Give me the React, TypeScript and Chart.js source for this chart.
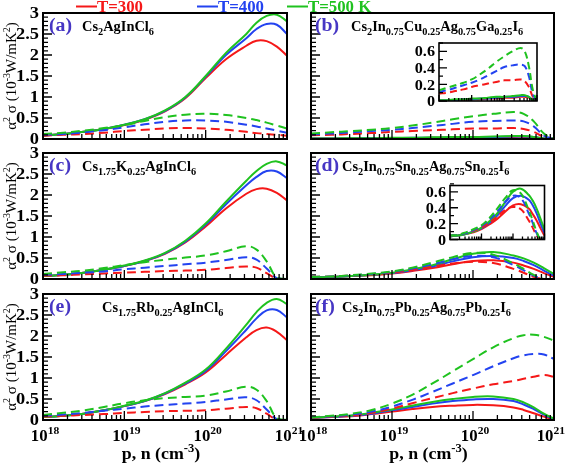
import React, { useEffect, useRef } from 'react';
import { Chart, registerables } from 'chart.js';

Chart.register(...registerables);

const W = 567;
const H = 465;
const FONT = '"Liberation Serif", "Times New Roman", Times, serif';

// carrier concentration grid, log10(cm^-3)
const EXPS = [18, 18.25, 18.5, 18.75, 19, 19.25, 19.5, 19.75, 20, 20.25, 20.5, 20.625, 20.75, 20.875, 21];
const TEMP_LABELS = ['T=300', 'T=400', 'T=500 K'];
const COLORS = ['#f51818', '#2343f0', '#1fc21f'];
const TAG_COLOR = '#4636c4';

const X_DECADES = [18, 19, 20, 21];
const Y_TICKS = ['0', '0.5', '1', '1.5', '2', '2.5', '3'];
const INSET_Y_TICKS = ['0', '0.2', '0.4', '0.6'];

// (a) Cs2AgInCl6  (solid = p-type, dashed = n-type)
const A_SOLID_300 = [0.08, 0.12, 0.17, 0.24, 0.33, 0.46, 0.66, 0.97, 1.45, 1.9, 2.22, 2.34, 2.33, 2.2, 1.98];
const A_SOLID_400 = [0.08, 0.12, 0.17, 0.24, 0.34, 0.47, 0.67, 0.99, 1.48, 2.0, 2.4, 2.62, 2.74, 2.72, 2.5];
const A_SOLID_500 = [0.08, 0.12, 0.17, 0.24, 0.34, 0.47, 0.68, 1.0, 1.5, 2.05, 2.5, 2.77, 2.93, 2.96, 2.8];
const A_DASH_300 = [0.08, 0.1, 0.12, 0.15, 0.19, 0.22, 0.25, 0.26, 0.25, 0.22, 0.17, 0.14, 0.12, 0.1, 0.08];
const A_DASH_400 = [0.1, 0.12, 0.16, 0.21, 0.28, 0.35, 0.41, 0.44, 0.44, 0.41, 0.34, 0.3, 0.25, 0.2, 0.15];
const A_DASH_500 = [0.12, 0.15, 0.2, 0.26, 0.33, 0.43, 0.52, 0.58, 0.6, 0.57, 0.5, 0.45, 0.39, 0.32, 0.25];

// (b) Cs2In0.75Cu0.25Ag0.75Ga0.25I6
const B_SOLID_300 = [0.01, 0.01, 0.01, 0.01, 0.02, 0.02, 0.03, 0.03, 0.04, 0.04, 0.05, 0.05, 0.04, 0.01, 0];
const B_SOLID_400 = [0.01, 0.01, 0.01, 0.02, 0.02, 0.03, 0.03, 0.04, 0.05, 0.05, 0.06, 0.06, 0.05, 0.01, 0];
const B_SOLID_500 = [0.01, 0.01, 0.02, 0.02, 0.03, 0.03, 0.04, 0.05, 0.05, 0.06, 0.07, 0.07, 0.05, 0.01, 0];
const B_DASH_300 = [0.09, 0.1, 0.12, 0.14, 0.17, 0.19, 0.21, 0.23, 0.25, 0.25, 0.26, 0.24, 0.17, 0.05, 0];
const B_DASH_400 = [0.11, 0.13, 0.16, 0.19, 0.22, 0.26, 0.31, 0.36, 0.41, 0.43, 0.44, 0.42, 0.3, 0.08, 0];
const B_DASH_500 = [0.13, 0.16, 0.19, 0.22, 0.26, 0.32, 0.39, 0.47, 0.54, 0.6, 0.64, 0.6, 0.42, 0.13, 0];

// (c) Cs1.75K0.25AgInCl6
const C_SOLID_300 = [0.07, 0.1, 0.15, 0.22, 0.31, 0.43, 0.6, 0.87, 1.25, 1.68, 2.03, 2.14, 2.15, 2.05, 1.87];
const C_SOLID_400 = [0.07, 0.1, 0.15, 0.22, 0.31, 0.43, 0.61, 0.89, 1.29, 1.78, 2.23, 2.43, 2.57, 2.56, 2.4];
const C_SOLID_500 = [0.07, 0.1, 0.15, 0.22, 0.32, 0.44, 0.62, 0.91, 1.32, 1.84, 2.34, 2.57, 2.74, 2.8, 2.7];
const C_DASH_300 = [0.08, 0.09, 0.11, 0.13, 0.15, 0.17, 0.19, 0.2, 0.22, 0.26, 0.3, 0.27, 0.14, 0.01, 0];
const C_DASH_400 = [0.1, 0.12, 0.15, 0.18, 0.23, 0.27, 0.31, 0.35, 0.39, 0.45, 0.52, 0.46, 0.25, 0.02, 0];
const C_DASH_500 = [0.12, 0.16, 0.2, 0.26, 0.33, 0.4, 0.46, 0.51, 0.56, 0.66, 0.78, 0.7, 0.42, 0.03, 0];

// (d) Cs2In0.75Sn0.25Ag0.75Sn0.25I6
const D_SOLID_300 = [0.04, 0.05, 0.07, 0.09, 0.13, 0.19, 0.26, 0.35, 0.43, 0.445, 0.39, 0.32, 0.24, 0.14, 0.05];
const D_SOLID_400 = [0.04, 0.05, 0.07, 0.1, 0.14, 0.21, 0.3, 0.42, 0.52, 0.55, 0.5, 0.43, 0.33, 0.2, 0.08];
const D_SOLID_500 = [0.04, 0.05, 0.07, 0.1, 0.15, 0.23, 0.33, 0.47, 0.6, 0.64, 0.56, 0.49, 0.39, 0.26, 0.12];
const D_DASH_300 = [0.05, 0.06, 0.08, 0.11, 0.15, 0.21, 0.29, 0.37, 0.41, 0.38, 0.24, 0.15, 0.05, 0, 0];
const D_DASH_400 = [0.05, 0.06, 0.08, 0.12, 0.17, 0.25, 0.35, 0.47, 0.55, 0.52, 0.33, 0.21, 0.08, 0, 0];
const D_DASH_500 = [0.05, 0.06, 0.09, 0.13, 0.18, 0.27, 0.39, 0.52, 0.62, 0.58, 0.37, 0.24, 0.1, 0, 0];

// (e) Cs1.75Rb0.25AgInCl6
const E_SOLID_300 = [0.07, 0.1, 0.15, 0.23, 0.33, 0.45, 0.62, 0.85, 1.13, 1.55, 1.97, 2.14, 2.2, 2.1, 1.9];
const E_SOLID_400 = [0.07, 0.1, 0.15, 0.23, 0.33, 0.45, 0.63, 0.87, 1.17, 1.64, 2.15, 2.42, 2.61, 2.62, 2.44];
const E_SOLID_500 = [0.07, 0.1, 0.15, 0.23, 0.34, 0.46, 0.64, 0.89, 1.2, 1.7, 2.27, 2.57, 2.79, 2.88, 2.76];
const E_DASH_300 = [0.08, 0.1, 0.12, 0.14, 0.17, 0.19, 0.21, 0.22, 0.23, 0.27, 0.31, 0.28, 0.15, 0.01, 0];
const E_DASH_400 = [0.1, 0.13, 0.17, 0.22, 0.27, 0.32, 0.36, 0.39, 0.43, 0.49, 0.54, 0.47, 0.25, 0.02, 0];
const E_DASH_500 = [0.12, 0.17, 0.23, 0.31, 0.4, 0.47, 0.52, 0.55, 0.58, 0.68, 0.79, 0.72, 0.45, 0.04, 0];

// (f) Cs2In0.75Pb0.25Ag0.75Pb0.25I6
const F_SOLID_300 = [0.05, 0.07, 0.09, 0.14, 0.2, 0.26, 0.31, 0.34, 0.36, 0.35, 0.3, 0.24, 0.16, 0.08, 0.01];
const F_SOLID_400 = [0.05, 0.07, 0.1, 0.15, 0.23, 0.31, 0.39, 0.45, 0.49, 0.5, 0.45, 0.37, 0.26, 0.13, 0.02];
const F_SOLID_500 = [0.05, 0.08, 0.11, 0.17, 0.25, 0.34, 0.43, 0.5, 0.55, 0.56, 0.5, 0.42, 0.3, 0.15, 0.03];
const F_DASH_300 = [0.05, 0.08, 0.11, 0.17, 0.27, 0.4, 0.52, 0.64, 0.75, 0.85, 0.93, 0.98, 1.03, 1.07, 1.03];
const F_DASH_400 = [0.06, 0.09, 0.13, 0.2, 0.32, 0.48, 0.67, 0.87, 1.07, 1.28, 1.47, 1.54, 1.57, 1.56, 1.45];
const F_DASH_500 = [0.06, 0.1, 0.15, 0.24, 0.39, 0.6, 0.87, 1.16, 1.45, 1.73, 1.95, 2.02, 2.03, 1.98, 1.89];

type Seg = [string, string];
const FORM_A: Seg[] = [['Cs', ''], ['2', 'sub'], ['AgInCl', ''], ['6', 'sub']];
const FORM_B: Seg[] = [['Cs', ''], ['2', 'sub'], ['In', ''], ['0.75', 'sub'], ['Cu', ''], ['0.25', 'sub'], ['Ag', ''], ['0.75', 'sub'], ['Ga', ''], ['0.25', 'sub'], ['I', ''], ['6', 'sub']];
const FORM_C: Seg[] = [['Cs', ''], ['1.75', 'sub'], ['K', ''], ['0.25', 'sub'], ['AgInCl', ''], ['6', 'sub']];
const FORM_D: Seg[] = [['Cs', ''], ['2', 'sub'], ['In', ''], ['0.75', 'sub'], ['Sn', ''], ['0.25', 'sub'], ['Ag', ''], ['0.75', 'sub'], ['Sn', ''], ['0.25', 'sub'], ['I', ''], ['6', 'sub']];
const FORM_E: Seg[] = [['Cs', ''], ['1.75', 'sub'], ['Rb', ''], ['0.25', 'sub'], ['AgInCl', ''], ['6', 'sub']];
const FORM_F: Seg[] = [['Cs', ''], ['2', 'sub'], ['In', ''], ['0.75', 'sub'], ['Pb', ''], ['0.25', 'sub'], ['Ag', ''], ['0.75', 'sub'], ['Pb', ''], ['0.25', 'sub'], ['I', ''], ['6', 'sub']];
const Y_TITLE: Seg[] = [['\u03b1', ''], ['2', 'sup'], [' \u03c3 (10', ''], ['-3', 'sup'], ['W/mK', ''], ['2', 'sup'], [')', '']];
const X_TITLE: Seg[] = [['p, n (cm', ''], ['-3', 'sup'], [')', '']];

// layout (pixels)
const ROWS = [[13, 139], [153, 279], [294, 420]];
const COLS = [[43, 287], [311, 554]];
const LEGEND_POS = [[76, 97], [197, 218], [287, 308]];

const PANELS = [
  { tag: '(a)', form: FORM_A, col: 0, row: 0, fx: 82, solid: [A_SOLID_300, A_SOLID_400, A_SOLID_500], dashed: [A_DASH_300, A_DASH_400, A_DASH_500] },
  { tag: '(b)', form: FORM_B, col: 1, row: 0, fx: 351, solid: [B_SOLID_300, B_SOLID_400, B_SOLID_500], dashed: [B_DASH_300, B_DASH_400, B_DASH_500] },
  { tag: '(c)', form: FORM_C, col: 0, row: 1, fx: 82, solid: [C_SOLID_300, C_SOLID_400, C_SOLID_500], dashed: [C_DASH_300, C_DASH_400, C_DASH_500] },
  { tag: '(d)', form: FORM_D, col: 1, row: 1, fx: 342, solid: [D_SOLID_300, D_SOLID_400, D_SOLID_500], dashed: [D_DASH_300, D_DASH_400, D_DASH_500] },
  { tag: '(e)', form: FORM_E, col: 0, row: 2, fx: 102, solid: [E_SOLID_300, E_SOLID_400, E_SOLID_500], dashed: [E_DASH_300, E_DASH_400, E_DASH_500] },
  { tag: '(f)', form: FORM_F, col: 1, row: 2, fx: 342, solid: [F_SOLID_300, F_SOLID_400, F_SOLID_500], dashed: [F_DASH_300, F_DASH_400, F_DASH_500] },
];

const INSETS = [
  { parent: 1, box: [439, 43, 537, 101], ymax: 0.7 },
  { parent: 3, box: [450, 185.5, 544.5, 239.5], ymax: 0.68 },
];

function measureRich(ctx: CanvasRenderingContext2D, segs: Seg[], size: number, weight: string, sx = 1) {
  const small = Math.round(size * 0.68);
  return segs.map(([t, m]) => {
    const fs = m ? small : size;
    ctx.font = `${weight} ${fs}px ${FONT}`;
    return { t, m, fs, w: ctx.measureText(t).width * sx };
  });
}

function drawRich(ctx: CanvasRenderingContext2D, segs: Seg[], x: number, y: number, size: number, weight: string, color: string, align = 'left', sx = 1, maxRight = Infinity) {
  const parts = measureRich(ctx, segs, size, weight, sx);
  const total = parts.reduce((s, p) => s + p.w, 0);
  let cx = align === 'center' ? x - total / 2 : align === 'right' ? x - total : x;
  if (cx + total > maxRight) cx = maxRight - total;
  ctx.fillStyle = color;
  ctx.textAlign = 'left';
  ctx.textBaseline = 'alphabetic';
  for (const p of parts) {
    ctx.font = `${weight} ${p.fs}px ${FONT}`;
    const dy = p.m === 'sub' ? size * 0.3 : p.m === 'sup' ? -size * 0.42 : 0;
    ctx.save();
    ctx.translate(cx, y + dy);
    ctx.scale(sx, 1);
    ctx.fillText(p.t, 0, 0);
    ctx.restore();
    cx += p.w;
  }
}

type AxesOpts = {
  ymax: number; yMajor: number; yMinor: number; yLabels: string[] | null; yLabelSize: number; yLabelSx: number;
  xLabels: boolean; xMaj: number; xMin: number; yMaj: number; yMin: number; frame: number;
  white: boolean; extra?: (ctx: CanvasRenderingContext2D, a: any) => void;
};

function axesPlugin(o: AxesOpts) {
  return {
    id: 'customAxes',
    beforeDatasetsDraw(chart: any) {
      if (!o.white) return;
      const { ctx, chartArea: a } = chart;
      ctx.save();
      ctx.fillStyle = '#ffffff';
      ctx.fillRect(a.left, a.top, a.right - a.left, a.bottom - a.top);
      ctx.restore();
    },
    afterDraw(chart: any) {
      const { ctx, chartArea: a } = chart;
      const xs = chart.scales.x;
      const ys = chart.scales.y;
      ctx.save();
      ctx.strokeStyle = '#000';
      ctx.lineWidth = 1.3;
      ctx.beginPath();
      for (const d of X_DECADES) {
        for (let k = 1; k <= 9; k++) {
          if (d === 21 && k > 1) break;
          const px = xs.getPixelForValue(k * Math.pow(10, d));
          const len = k === 1 ? o.xMaj : o.xMin;
          ctx.moveTo(px, a.bottom);
          ctx.lineTo(px, a.bottom - len);
        }
      }
      const n = Math.round(o.ymax / o.yMinor + 1e-6);
      for (let i = 0; i <= n; i++) {
        const v = i * o.yMinor;
        const r = v / o.yMajor;
        const isMaj = Math.abs(r - Math.round(r)) < 1e-6;
        const py = ys.getPixelForValue(v);
        ctx.moveTo(a.left, py);
        ctx.lineTo(a.left + (isMaj ? o.yMaj : o.yMin), py);
      }
      ctx.stroke();
      ctx.lineWidth = o.frame;
      ctx.strokeRect(a.left, a.top, a.right - a.left, a.bottom - a.top);
      if (o.yLabels) {
        for (const lab of o.yLabels) {
          const py = ys.getPixelForValue(parseFloat(lab));
          drawRich(ctx, [[lab, '']], a.left - 4, py + o.yLabelSize * 0.34, o.yLabelSize, 'bold', '#000', 'right', o.yLabelSx);
        }
      }
      if (o.xLabels) {
        for (const d of X_DECADES) {
          const px = xs.getPixelForValue(Math.pow(10, d));
          drawRich(ctx, [['10', ''], [String(d), 'sup']], px + 2, a.bottom + 21, 16, 'bold', '#000', 'center', 1.05, W - 2);
        }
      }
      if (o.extra) o.extra(ctx, a);
      ctx.restore();
    },
  };
}

function buildDatasets(solid: number[][], dashed: number[][], dash: number[]) {
  const ds: any[] = [];
  const push = (vals: number[], ti: number, isDashed: boolean) => {
    ds.push({
      label: TEMP_LABELS[ti],
      data: EXPS.map((e, i) => ({ x: Math.pow(10, e), y: vals[i] })),
      borderColor: COLORS[ti],
      borderWidth: 2,
      borderDash: isDashed ? dash : [],
      pointRadius: 0,
      fill: false,
      tension: 0.4,
    });
  };
  for (let t = 2; t >= 0; t--) push(dashed[t], t, true);
  for (let t = 2; t >= 0; t--) push(solid[t], t, false);
  return ds;
}

function baseOptions(x0: number, y0: number, x1: number, y1: number, ymax: number) {
  return {
    responsive: false,
    maintainAspectRatio: false,
    animation: false,
    devicePixelRatio: 1,
    events: [],
    layout: { padding: { left: x0, top: y0, right: W - x1, bottom: H - y1 } },
    scales: {
      x: { type: 'logarithmic', min: 1e18, max: 1e21, display: false },
      y: { type: 'linear', min: 0, max: ymax, display: false },
    },
    plugins: { legend: { display: false }, tooltip: { enabled: false } },
  };
}

function makePanel(canvas: HTMLCanvasElement, idx: number) {
  const p = PANELS[idx];
  const [x0, x1] = COLS[p.col];
  const [y0, y1] = ROWS[p.row];
  const isLeft = p.col === 0;
  const isBottom = p.row === 2;
  const extra = (ctx: CanvasRenderingContext2D, a: any) => {
    const base = a.top + 18;
    drawRich(ctx, [[p.tag, '']], a.left + (isLeft ? 6 : 4), base, 18, 'bold', TAG_COLOR, 'left', 1.1);
    drawRich(ctx, p.form, p.fx, base, 14, 'bold', '#000', 'left', 1.03);
    if (isLeft) {
      ctx.save();
      ctx.translate(16, (a.top + a.bottom) / 2);
      ctx.rotate(-Math.PI / 2);
      drawRich(ctx, Y_TITLE, 0, 0, 15, 'normal', '#000', 'center');
      ctx.restore();
    }
    if (isBottom) {
      drawRich(ctx, X_TITLE, (a.left + a.right) / 2 - 4, 459, 17, 'bold', '#000', 'center', 1.05);
    }
    if (idx === 0) {
      LEGEND_POS.forEach(([lx0, lx1], i) => {
        ctx.strokeStyle = COLORS[i];
        ctx.lineWidth = 2;
        ctx.beginPath();
        ctx.moveTo(lx0, 6.5);
        ctx.lineTo(lx1, 6.5);
        ctx.stroke();
        drawRich(ctx, [[TEMP_LABELS[i], '']], lx1, 12, 16, 'bold', COLORS[i], 'left', 1.05);
      });
    }
  };
  return new Chart(canvas, {
    type: 'line',
    data: { datasets: buildDatasets(p.solid, p.dashed, [9, 5]) },
    options: baseOptions(x0, y0, x1, y1, 3) as any,
    plugins: [axesPlugin({
      ymax: 3, yMajor: 0.5, yMinor: 0.1, yLabels: isLeft ? Y_TICKS : null, yLabelSize: 16, yLabelSx: 1.15,
      xLabels: isBottom, xMaj: 9, xMin: 5, yMaj: 9, yMin: 5, frame: 2, white: false, extra,
    })],
  });
}

function makeInset(canvas: HTMLCanvasElement, idx: number) {
  const ins = INSETS[idx];
  const p = PANELS[ins.parent];
  const [x0, y0, x1, y1] = ins.box;
  return new Chart(canvas, {
    type: 'line',
    data: { datasets: buildDatasets(p.solid, p.dashed, [7, 4]) },
    options: baseOptions(x0, y0, x1, y1, ins.ymax) as any,
    plugins: [axesPlugin({
      ymax: ins.ymax, yMajor: 0.2, yMinor: 0.1, yLabels: INSET_Y_TICKS, yLabelSize: 15, yLabelSx: 1.08,
      xLabels: false, xMaj: 6, xMin: 3, yMaj: 8, yMin: 4, frame: 1.6, white: true,
    })],
  });
}

const N_CANVAS = PANELS.length + INSETS.length;

export default function App() {
  const refs = useRef<(HTMLCanvasElement | null)[]>([]);
  useEffect(() => {
    const charts: Chart[] = [];
    PANELS.forEach((_, i) => { const c = refs.current[i]; if (c) charts.push(makePanel(c, i)); });
    INSETS.forEach((_, i) => { const c = refs.current[PANELS.length + i]; if (c) charts.push(makeInset(c, i)); });
    return () => charts.forEach((c) => c.destroy());
  }, []);
  return (
    <div style={{ position: 'fixed', left: 0, top: 0, width: W, height: H, background: '#ffffff', overflow: 'hidden' }}>
      {Array.from({ length: N_CANVAS }).map((_, i) => (
        <canvas
          key={i}
          ref={(el) => { refs.current[i] = el; }}
          width={W}
          height={H}
          style={{ position: 'absolute', left: 0, top: 0, width: W, height: H, pointerEvents: 'none' }}
        />
      ))}
    </div>
  );
}
